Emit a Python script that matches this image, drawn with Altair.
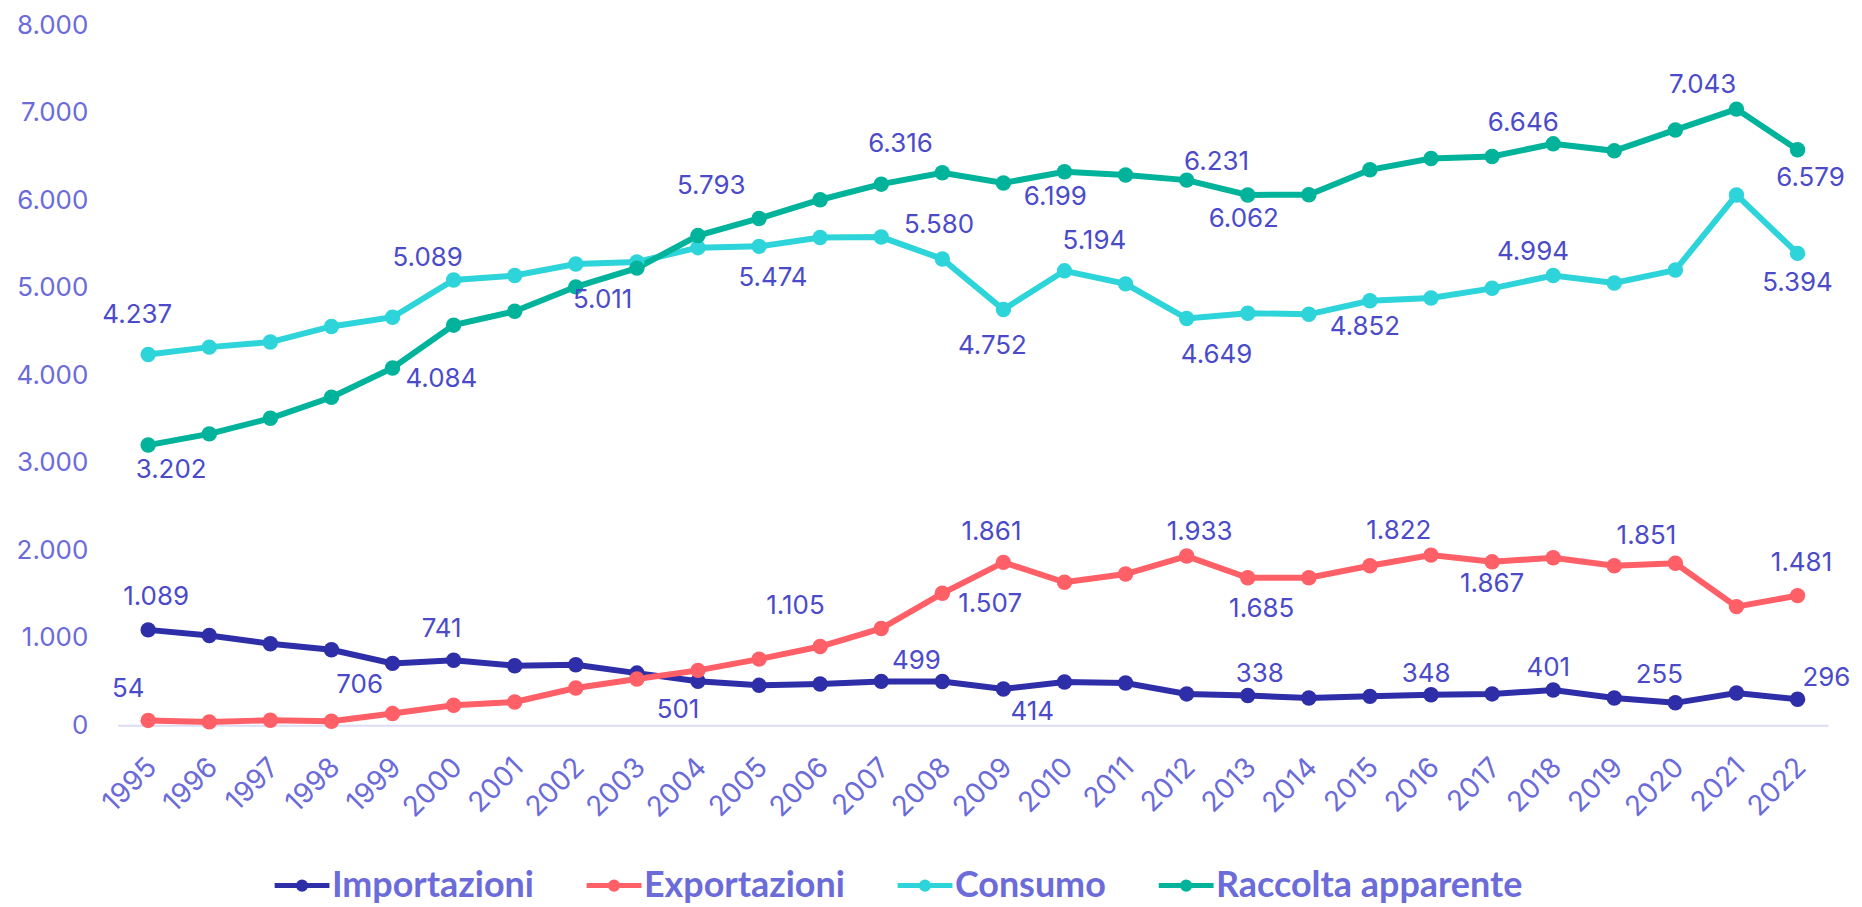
import altair as alt
import pandas as pd

# ---------------- data ----------------
years = list(range(1995, 2023))
series_names = ["Importazioni", "Exportazioni", "Consumo", "Raccolta apparente"]

importazioni = [1089, 1025, 930, 862, 706, 741, 679, 690, 595, 501, 455, 471, 500, 499,
                414, 493, 482, 357, 338, 311, 329, 348, 357, 401, 311, 255, 368, 296]
exportazioni = [54, 37, 56, 44, 132, 227, 265, 425, 528, 626, 755, 899, 1105, 1507,
                1861, 1633, 1728, 1933, 1685, 1686, 1822, 1944, 1867, 1913, 1822, 1851, 1355, 1481]
consumo = [4237, 4322, 4380, 4558, 4664, 5089, 5140, 5272, 5296, 5459, 5474, 5575, 5580, 5330,
           4752, 5194, 5045, 4649, 4710, 4697, 4852, 4884, 4994, 5140, 5055, 5203, 6062, 5394]
raccolta = [3202, 3330, 3508, 3748, 4084, 4573, 4732, 5011, 5225, 5597, 5793, 6007, 6185, 6316,
            6199, 6326, 6290, 6231, 6062, 6064, 6349, 6478, 6501, 6646, 6566, 6805, 7043, 6579]

values = {
    "Importazioni": importazioni,
    "Exportazioni": exportazioni,
    "Consumo": consumo,
    "Raccolta apparente": raccolta,
}

# years that carry a value label
label_years = {
    "Importazioni": [1995, 1999, 2000, 2004, 2008, 2009, 2013, 2016, 2018, 2020, 2022],
    "Exportazioni": [1995, 2007, 2008, 2009, 2012, 2013, 2015, 2017, 2020, 2022],
    "Consumo": [1995, 2000, 2005, 2007, 2009, 2010, 2012, 2015, 2017, 2022],
    "Raccolta apparente": [1995, 1999, 2002, 2005, 2008, 2009, 2012, 2013, 2018, 2021, 2022],
}

# ---------------- style ----------------
colors = ["#2E2EA8", "#FF5F66", "#2DD4D9", "#00B39A"]
tick_color = "#6B6BD9"
label_color = "#4B4BC9"
font = "Inter"

# label nudges (dx, dy) in pixels, relative to each labelled point
label_nudge = {
    "Importazioni": [(8, -33), (-33, 22), (-12, -31), (-20, 29), (-26, -21), (29, 23),
                     (12, -22), (-5, -21), (-5, -22), (-16, -28), (29, -21)],
    "Exportazioni": [(-20, -31), (-86, -23), (48, 11), (-12, -30), (13, -24), (14, 31),
                     (29, -35), (0, 22), (-29, -27), (4, -33)],
    "Consumo": [(-11, -40), (-26, -22), (14, 32), (58, -12), (-11, 37), (30, -30),
                (30, 37), (-5, 26), (41, -36), (0, 30)],
    "Raccolta apparente": [(23, 25), (49, 11), (27, 13), (-48, -33), (-42, -29), (52, 14),
                           (30, -18), (-4, 24), (-30, -21), (-34, -24), (13, 28)],
}

# ---------------- tables ----------------
rows = []
for s in series_names:
    for y, v in zip(years, values[s]):
        rows.append({"Anno": y, "Serie": s, "Valore": v})
df = pd.DataFrame(rows)


def fmt_it(v):
    return f"{v:,}".replace(",", ".")


lab_rows = []
for s in series_names:
    for y, (dx, dy) in zip(label_years[s], label_nudge[s]):
        v = values[s][years.index(y)]
        lab_rows.append({"Anno": y, "Serie": s, "Valore": v, "testo": fmt_it(v),
                         "ndx": dx, "ndy": dy})
df_lab = pd.DataFrame(lab_rows)

# ---------------- chart ----------------
x = alt.X(
    "Anno:O",
    scale=alt.Scale(type="point", padding=0.5),
    axis=alt.Axis(
        title=None, labelAngle=-45, labelFontSize=28, labelColor=tick_color,
        labelFont=font, ticks=False, domainColor="#DCDCF5", domainWidth=2,
        labelPadding=28, labelOffset=-6, grid=False,
    ),
)
y = alt.Y(
    "Valore:Q",
    scale=alt.Scale(domain=[0, 8000], nice=False, zero=True),
    axis=alt.Axis(
        title=None, values=list(range(0, 8001, 1000)), labelFontSize=26,
        labelColor=tick_color, labelFont=font, ticks=False, domain=False,
        grid=False, labelPadding=30,
        labelExpr="replace(format(datum.value, ','), ',', '.')",
    ),
)

legend = alt.Legend(
    title=None, orient="none", direction="horizontal",
    legendX=155, legendY=833,
    symbolType="M-1,0L1,0M-0.13,0A0.13,0.13,0,1,1,0.13,0A0.13,0.13,0,1,1,-0.13,0Z",
    symbolSize=3025, symbolStrokeWidth=5, labelFontSize=36, labelFont="Lato",
    labelFontWeight="bold", labelColor=tick_color, labelOffset=0, columnPadding=42,
    labelLimit=0,
)

color_scale = alt.Scale(domain=series_names, range=colors)

lines = alt.Chart(df).mark_line(strokeWidth=6).encode(
    x=x, y=y, stroke=alt.Stroke("Serie:N", scale=color_scale, legend=legend),
    order=alt.Order("Anno:O"),
)
points = alt.Chart(df).mark_point(filled=True, size=240, opacity=1).encode(
    x=x, y=y, fill=alt.Fill("Serie:N", scale=color_scale, legend=None)
)
texts = alt.Chart(df_lab).mark_text(
    fontSize=26, font=font, color=label_color, align="center", baseline="middle",
    dx=alt.expr("datum.ndx"), dy=alt.expr("datum.ndy"),
).encode(
    x=x, y=y, text="testo:N",
)

chart = alt.layer(lines, points, texts).properties(
    width=1716, height=702,
    autosize=alt.AutoSizeParams(type="none"),
    padding={"left": 110, "top": 16, "right": 26, "bottom": 185},
).configure_view(stroke=None)

chart.save("out.html", embed_options={"renderer": "svg", "actions": False})
